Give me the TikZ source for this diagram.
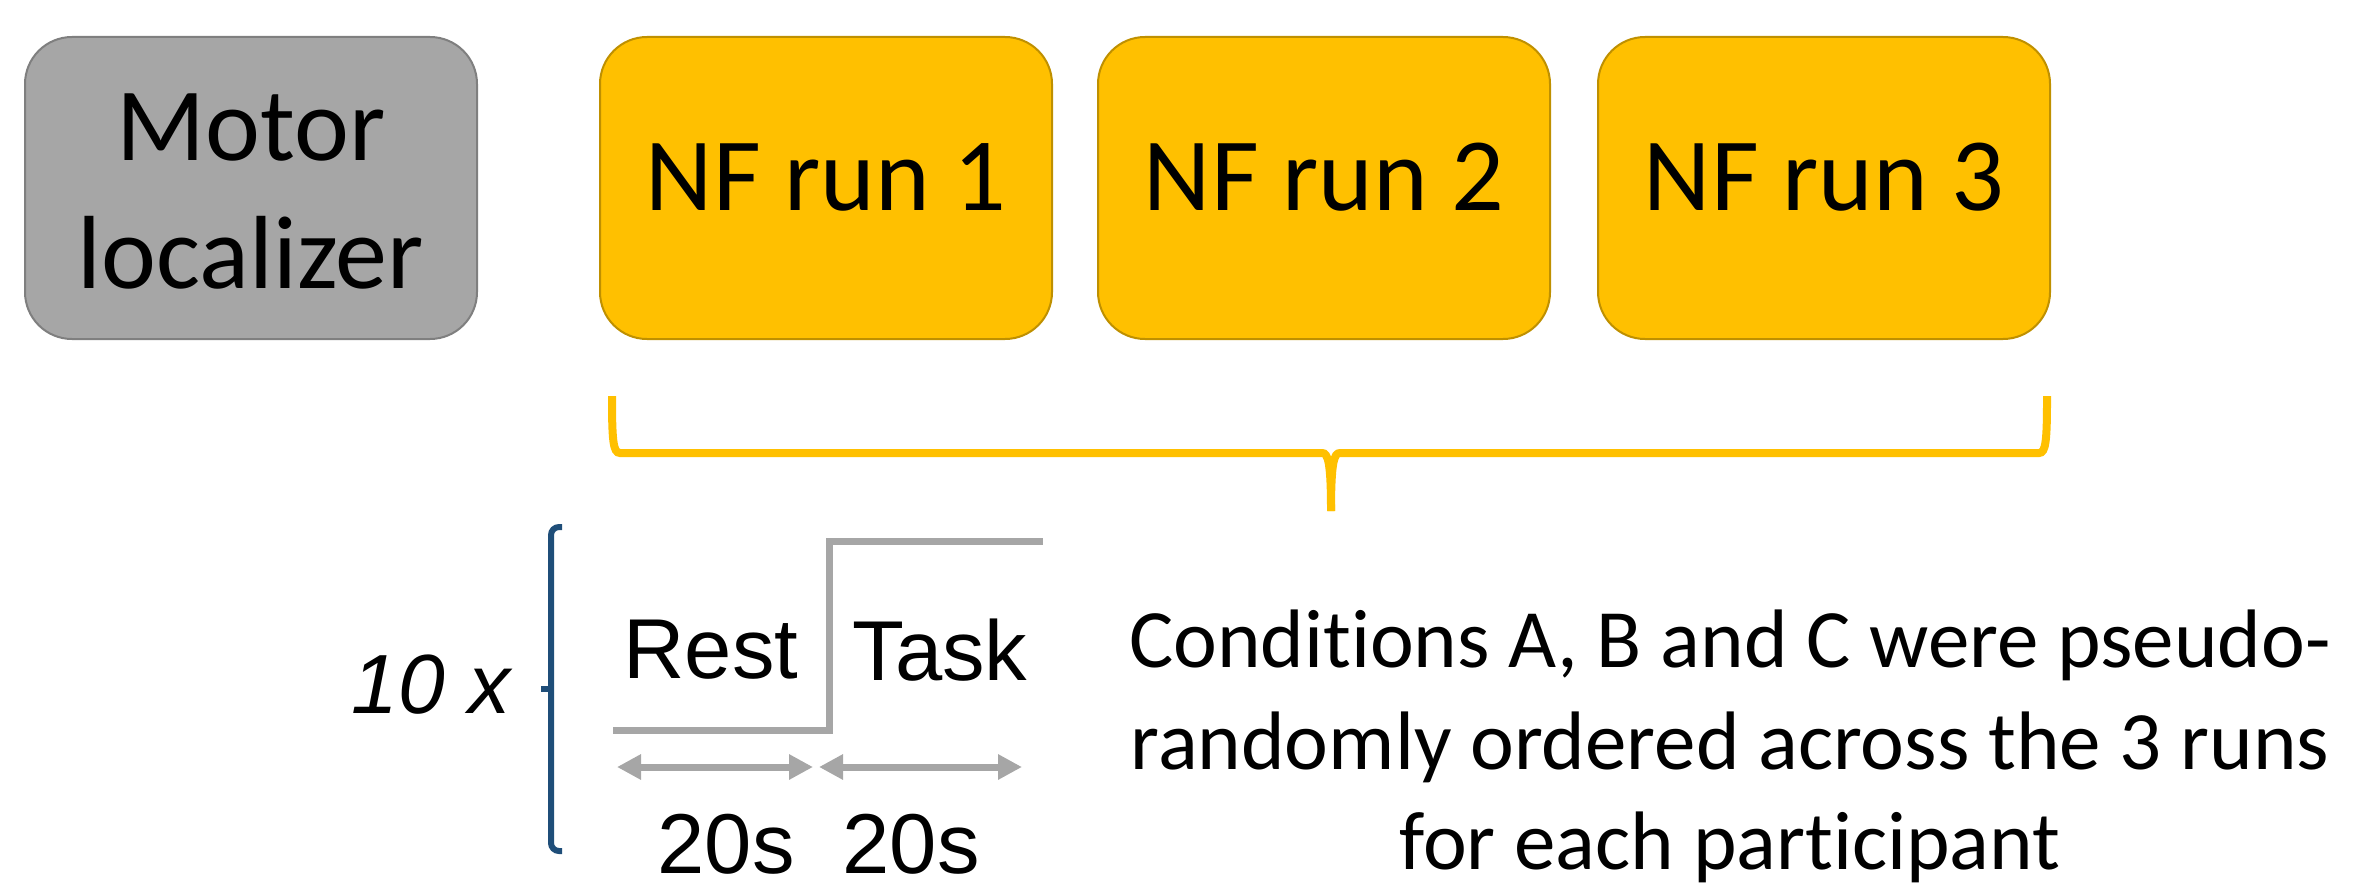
\documentclass[tikz,border=0pt]{standalone}
\usepackage{fontspec}
\setmainfont{Carlito}[Ligatures=NoCommon]
\newfontfamily\arialf{Liberation Sans}
\usetikzlibrary{arrows.meta}
\definecolor{boxgray}{HTML}{A6A6A6}
\definecolor{boxgrayline}{HTML}{7F7F7F}
\definecolor{gold}{HTML}{FFC000}
\definecolor{goldline}{HTML}{BF9000}
\definecolor{navy}{HTML}{1F4E79}
\definecolor{stepgray}{HTML}{A6A6A6}
\tikzset{
  stagebox/.style={rounded corners=23.5pt, minimum width=226pt, minimum height=151pt, inner sep=0pt, line width=1pt},
  graybox/.style={stagebox, fill=boxgray, draw=boxgrayline},
  goldbox/.style={stagebox, fill=gold, draw=goldline},
  boxtext/.style={font=\fontsize{52}{64}\selectfont, anchor=base, inner sep=0pt},
  armtext/.style={font=\arialf\fontsize{42.5}{51}\selectfont, anchor=base, inner sep=0pt},
  condtext/.style={font=\fontsize{41.5}{51}\selectfont, anchor=base, inner sep=0pt},
  bracegold/.style={draw=gold, line width=4pt},
  steppath/.style={draw=stepgray, line width=3.5pt, miter limit=10},
  dur/.style={draw=stepgray, line width=3.5pt, {Triangle[length=12pt,width=12pt]}-{Triangle[length=12pt,width=12pt]}, shorten <=0pt, shorten >=0pt}
}
\begin{document}
\begin{tikzpicture}[x=0.5pt,y=-0.5pt]
\useasboundingbox (0,0) rectangle (2353,888);
% boxes
\node[graybox] (motor) at (251,188) {};
\node[goldbox] (nf1) at (826,188) {};
\node[goldbox] (nf2) at (1324,188) {};
\node[goldbox] (nf3) at (1824,188) {};
\node[boxtext] (motorA) at (251,160) {Motor};
\node[boxtext] (motorB) at (251,288) {localizer};
\node[boxtext] (nf1t) at (826,210) {NF run 1};
\node[boxtext] (nf2t) at (1324,210) {NF run 2};
\node[boxtext] (nf3t) at (1824,210) {NF run 3};
% brace
\coordinate (bl) at (612,396);
\coordinate (br) at (2047,396);
\coordinate (btip) at (1331,511);
\draw[bracegold] (bl) .. controls (612,440) and (613,453) .. (620,453) -- (1322,453) .. controls (1328,453) and (1331,462) .. (btip);
\draw[bracegold] (br) .. controls (2047,440) and (2046,453) .. (2039,453) -- (1340,453) .. controls (1334,453) and (1331,462) .. (btip);
% left bracket
\coordinate (kt) at (562,527);
\coordinate (kb) at (562,851);
\draw[navy, line width=3pt, rounded corners=4pt] (kt) -- (551,527) -- (551,851) -- (kb);
\draw[navy, line width=3pt] (551,689) -- (541,689);
\node[font=\arialf\itshape\fontsize{42}{50}\selectfont, anchor=base, inner sep=0pt] (rep) at (431,713) {10 x};
% step
\coordinate (s0) at (613,730);
\coordinate (s1) at (829,730);
\coordinate (s2) at (829,541);
\coordinate (s3) at (1043,541);
\draw[steppath] (s0) -- (s1) -- (s2) -- (s3);
\node[armtext] (rest) at (711,678) {Rest};
\node[armtext] (task) at (940,680) {Task};
% durations
\coordinate (a0) at (617,767);
\coordinate (a1) at (813,767);
\coordinate (a2) at (819,767);
\coordinate (a3) at (1022,767);
\draw[dur] (a0) -- (a1);
\draw[dur] (a2) -- (a3);
\node[armtext] (d1) at (726,873) {20s};
\node[armtext] (d2) at (911,873) {20s};
% conditions
\node[condtext] (c1) at (1730,667) {Conditions A, B and C were pseudo-};
\node[condtext] (c2) at (1730,769) {randomly ordered across the 3 runs};
\node[condtext] (c3) at (1730,869) {for each participant};
\end{tikzpicture}
\end{document}
